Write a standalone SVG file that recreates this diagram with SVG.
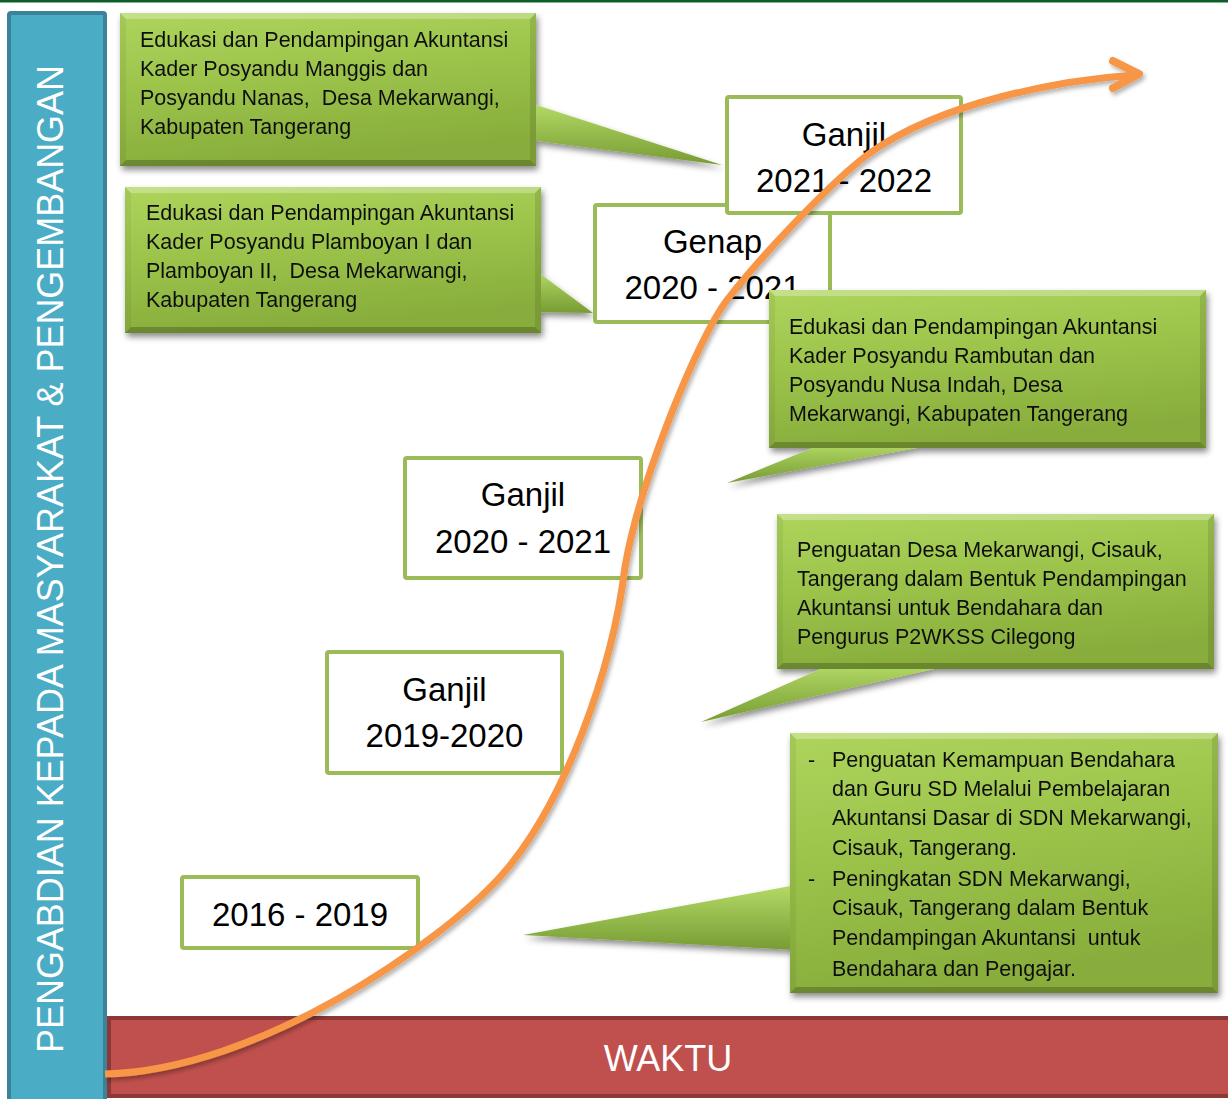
<svg xmlns="http://www.w3.org/2000/svg" width="1228" height="1099" viewBox="0 0 1228 1099">
<defs>
<style>
.ct{font-family:"Liberation Sans",Arial,sans-serif;font-size:21.5px;fill:#111}
.yb{fill:#fff;stroke:#9bbb59;stroke-width:4}
.yt{font-family:"Liberation Sans",Arial,sans-serif;font-size:33px;fill:#000;text-anchor:middle}
.box{fill:url(#gBox)}
.ptr{fill:url(#gPtr)}
.bt{fill:#fff;opacity:.28}
.bl{fill:#000;opacity:.05}
.br{fill:#000;opacity:.1}
.bb{fill:#000;opacity:.22}
.sh{filter:url(#shadow)}
</style>
<linearGradient id="gBox" x1="0" y1="0" x2="0.25" y2="1">
<stop offset="0" stop-color="#aed45c"/>
<stop offset="0.5" stop-color="#9bc34a"/>
<stop offset="1" stop-color="#88ad3c"/>
</linearGradient>
<linearGradient id="gPtr" x1="0" y1="0" x2="0" y2="1">
<stop offset="0" stop-color="#b4da66"/>
<stop offset="1" stop-color="#779c33"/>
</linearGradient>
<filter id="shadow" x="-10%" y="-10%" width="125%" height="130%">
<feDropShadow dx="2" dy="4" stdDeviation="3" flood-color="#000" flood-opacity="0.45"/>
</filter>
<filter id="cshadow" x="-5%" y="-5%" width="115%" height="115%">
<feDropShadow dx="2" dy="3" stdDeviation="2" flood-color="#000" flood-opacity="0.3"/>
</filter>
</defs>

<rect x="0" y="0" width="1228" height="2.5" fill="#0e5e2a"/>

<g id="axis-vertical">
<rect x="9" y="13" width="96" height="1100" rx="2" fill="#4bacc6" stroke="#3b8399" stroke-width="4"/>
<text transform="translate(63,559) rotate(-90)" text-anchor="middle" font-family="'Liberation Sans',Arial,sans-serif" font-size="37" fill="#fff" textLength="988" lengthAdjust="spacingAndGlyphs">PENGABDIAN KEPADA MASYARAKAT &amp; PENGEMBANGAN</text>
</g>

<g id="axis-waktu">
<rect x="109" y="1018" width="1130" height="78" fill="#c0504d" stroke="#8c3836" stroke-width="4"/>
<text x="668" y="1071" text-anchor="middle" font-family="'Liberation Sans',Arial,sans-serif" font-size="36" fill="#fff">WAKTU</text>
</g>

<g id="callout-manggis" class="sh">
<polygon class="ptr" points="530,103 722,165 530,140"/>
<rect class="box" x="120" y="13" width="416" height="153"/>
<polygon class="bt" points="120,13 536,13 530,19 126,19"/>
<polygon class="bl" points="120,13 126,19 126,160 120,166"/>
<polygon class="br" points="536,13 536,166 530,160 530,19"/>
<polygon class="bb" points="120,166 536,166 530,160 126,160"/>
<text class="ct" x="140" y="47">Edukasi dan Pendampingan Akuntansi</text>
<text class="ct" x="140" y="76">Kader Posyandu Manggis dan</text>
<text class="ct" x="140" y="105" xml:space="preserve">Posyandu Nanas,  Desa Mekarwangi,</text>
<text class="ct" x="140" y="134">Kabupaten Tangerang</text>
</g>

<g id="callout-plamboyan" class="sh">
<polygon class="ptr" points="535,270 593,313 535,312"/>
<rect class="box" x="125" y="187" width="416" height="146"/>
<polygon class="bt" points="125,187 541,187 535,193 131,193"/>
<polygon class="bl" points="125,187 131,193 131,327 125,333"/>
<polygon class="br" points="541,187 541,333 535,327 535,193"/>
<polygon class="bb" points="125,333 541,333 535,327 131,327"/>
<text class="ct" x="146" y="220">Edukasi dan Pendampingan Akuntansi</text>
<text class="ct" x="146" y="249">Kader Posyandu Plamboyan I dan</text>
<text class="ct" x="146" y="278" xml:space="preserve">Plamboyan II,  Desa Mekarwangi,</text>
<text class="ct" x="146" y="307">Kabupaten Tangerang</text>
</g>

<g id="period-2016-2019">
<rect class="yb" x="182" y="877" width="236" height="71" rx="2"/>
<text class="yt" x="300" y="926">2016 - 2019</text>
</g>

<g id="period-ganjil-2019-2020">
<rect class="yb" x="327" y="652" width="235" height="121" rx="2"/>
<text class="yt" x="444.5" y="701">Ganjil</text>
<text class="yt" x="444.5" y="747">2019-2020</text>
</g>

<g id="period-ganjil-2020-2021">
<rect class="yb" x="405" y="458" width="236" height="120" rx="2"/>
<text class="yt" x="523" y="506">Ganjil</text>
<text class="yt" x="523" y="553">2020 - 2021</text>
</g>

<g id="period-genap-2020-2021">
<rect class="yb" x="595" y="205" width="235" height="117" rx="2"/>
<text class="yt" x="712.5" y="253">Genap</text>
<text class="yt" x="712.5" y="299">2020 - 2021</text>
</g>

<g id="period-ganjil-2021-2022">
<rect class="yb" x="727" y="97" width="234" height="116" rx="2"/>
<text class="yt" x="844" y="146">Ganjil</text>
<text class="yt" x="844" y="192">2021 - 2022</text>
</g>

<g id="callout-rambutan" class="sh">
<polygon class="ptr" points="827,442 727,483 949,442"/>
<rect class="box" x="769" y="290" width="437" height="158"/>
<polygon class="bt" points="769,290 1206,290 1200,296 775,296"/>
<polygon class="bl" points="769,290 775,296 775,442 769,448"/>
<polygon class="br" points="1206,290 1206,448 1200,442 1200,296"/>
<polygon class="bb" points="769,448 1206,448 1200,442 775,442"/>
<text class="ct" x="789" y="334">Edukasi dan Pendampingan Akuntansi</text>
<text class="ct" x="789" y="363">Kader Posyandu Rambutan dan</text>
<text class="ct" x="789" y="392">Posyandu Nusa Indah, Desa</text>
<text class="ct" x="789" y="421">Mekarwangi, Kabupaten Tangerang</text>
</g>

<g id="callout-p2wkss" class="sh">
<polygon class="ptr" points="834,663 701,722 960,663"/>
<rect class="box" x="777" y="514" width="437" height="155"/>
<polygon class="bt" points="777,514 1214,514 1208,520 783,520"/>
<polygon class="bl" points="777,514 783,520 783,663 777,669"/>
<polygon class="br" points="1214,514 1214,669 1208,663 1208,520"/>
<polygon class="bb" points="777,669 1214,669 1208,663 783,663"/>
<text class="ct" x="797" y="557">Penguatan Desa Mekarwangi, Cisauk,</text>
<text class="ct" x="797" y="586">Tangerang dalam Bentuk Pendampingan</text>
<text class="ct" x="797" y="615">Akuntansi untuk Bendahara dan</text>
<text class="ct" x="797" y="644">Pengurus P2WKSS Cilegong</text>
</g>

<g id="callout-sdn" class="sh">
<polygon class="ptr" points="796,885 523,935 796,950"/>
<rect class="box" x="790" y="733" width="428" height="260"/>
<polygon class="bt" points="790,733 1218,733 1212,739 796,739"/>
<polygon class="bl" points="790,733 796,739 796,987 790,993"/>
<polygon class="br" points="1218,733 1218,993 1212,987 1212,739"/>
<polygon class="bb" points="790,993 1218,993 1212,987 796,987"/>
<text class="ct" x="808" y="767">-</text>
<text class="ct" x="832" y="767">Penguatan Kemampuan Bendahara</text>
<text class="ct" x="832" y="796">dan Guru SD Melalui Pembelajaran</text>
<text class="ct" x="832" y="825">Akuntansi Dasar di SDN Mekarwangi,</text>
<text class="ct" x="832" y="855">Cisauk, Tangerang.</text>
<text class="ct" x="808" y="886">-</text>
<text class="ct" x="832" y="886">Peningkatan SDN Mekarwangi,</text>
<text class="ct" x="832" y="915">Cisauk, Tangerang dalam Bentuk</text>
<text class="ct" x="832" y="945" xml:space="preserve">Pendampingan Akuntansi  untuk</text>
<text class="ct" x="832" y="976">Bendahara dan Pengajar.</text>
</g>

<g id="connectors" filter="url(#cshadow)" fill="none" stroke="#f79646" stroke-linecap="round" stroke-linejoin="round">
<path stroke-width="7" stroke-linecap="butt" d="M105,1074 C260,1070 440,943 500,877 C565,805 613,667 625,567 C640,480 698,338 727,300 C760,257 834,179 870,153 C942,102 1060,80 1135,75"/>
<polyline stroke-width="8" points="1113,61 1139,74 1113,88"/>
</g>
</svg>
